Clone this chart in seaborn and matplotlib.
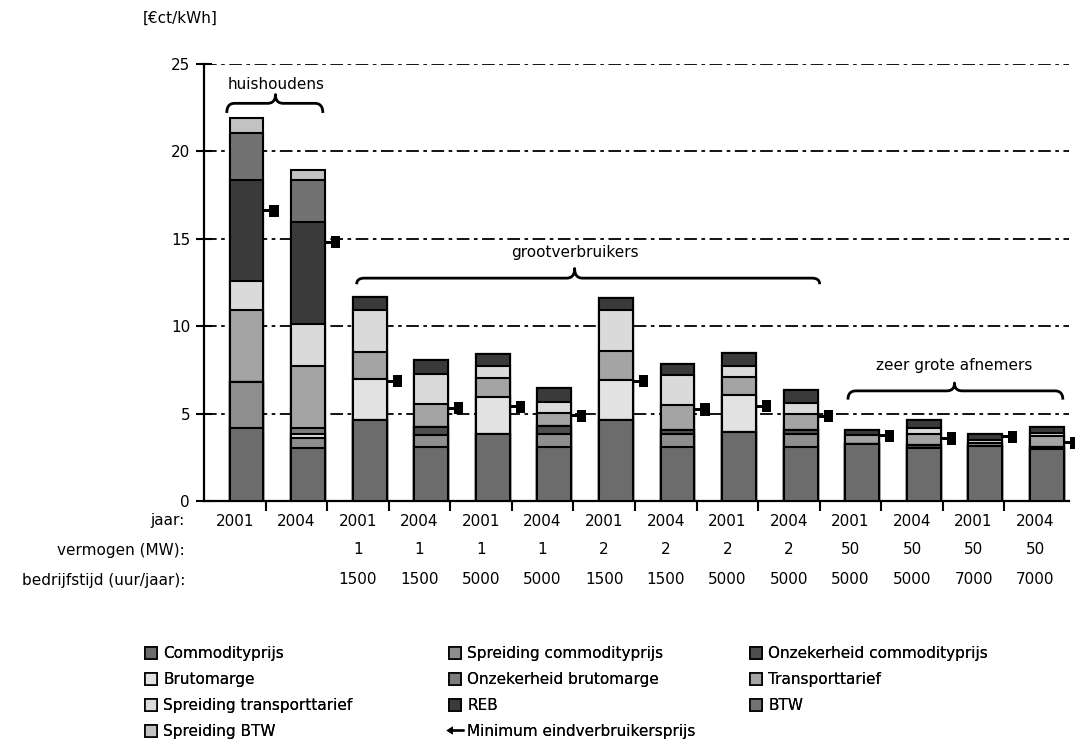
import numpy as np
import pandas as pd
import matplotlib
matplotlib.use("Agg")
import matplotlib.pyplot as plt
import seaborn as sns
from matplotlib.path import Path
from matplotlib.patches import Patch
from matplotlib.lines import Line2D
from matplotlib.transforms import blended_transform_factory

# ---------------- data ----------------
jaar = ["2001", "2004", "2001", "2004", "2001", "2004", "2001", "2004",
        "2001", "2004", "2001", "2004", "2001", "2004"]
vermogen = ["", "", "1", "1", "1", "1", "2", "2", "2", "2", "50", "50", "50", "50"]
bedrijfstijd = ["", "", "1500", "1500", "5000", "5000", "1500", "1500",
                "5000", "5000", "5000", "5000", "7000", "7000"]

series_names = ["Commodityprijs", "Spreiding commodityprijs", "Onzekerheid commodityprijs",
                "Brutomarge", "Onzekerheid brutomarge", "Transporttarief",
                "Spreiding transporttarief", "REB", "BTW", "Spreiding BTW"]

commodityprijs = [4.15, 3.05, 4.62, 3.10, 3.82, 3.10, 4.66, 3.10, 3.92, 3.10, 3.25, 3.01, 3.15, 3.00]
spreiding_commodityprijs = [2.65, 0.57, 0, 0.70, 0, 0.76, 0, 0.72, 0, 0.72, 0, 0, 0, 0]
onzekerheid_commodityprijs = [0, 0, 0, 0.44, 0, 0.42, 0, 0.23, 0, 0.23, 0, 0.19, 0, 0.10]
brutomarge = [0, 0.24, 2.38, 0, 2.13, 0, 2.25, 0, 2.13, 0, 0, 0, 0, 0]
onzekerheid_brutomarge = [0, 0.33, 0, 0, 0, 0, 0, 0, 0, 0, 0, 0, 0, 0]
transporttarief = [4.10, 3.52, 1.52, 1.33, 1.11, 0.76, 1.65, 1.43, 1.05, 0.92, 0.52, 0.66, 0.14, 0.61]
spreiding_transporttarief = [1.68, 2.44, 2.38, 1.68, 0.64, 0.63, 2.38, 1.71, 0.62, 0.64, 0, 0.29, 0.19, 0.19]
reb = [5.81, 5.80, 0.76, 0.80, 0.73, 0.80, 0.66, 0.63, 0.77, 0.76, 0.32, 0.47, 0.38, 0.34]
btw = [2.67, 2.40, 0, 0, 0, 0, 0, 0, 0, 0, 0, 0, 0, 0]
spreiding_btw = [0.84, 0.61, 0, 0, 0, 0, 0, 0, 0, 0, 0, 0, 0, 0]
minimum_eindverbruikersprijs = [16.6, 14.8, 6.85, 5.30, 5.40, 4.87, 6.85, 5.23, 5.42, 4.85,
                                3.73, 3.58, 3.67, 3.33]

series_values = [commodityprijs, spreiding_commodityprijs, onzekerheid_commodityprijs,
                 brutomarge, onzekerheid_brutomarge, transporttarief,
                 spreiding_transporttarief, reb, btw, spreiding_btw]
series_colors = ["#6c6c6c", "#8e8e8e", "#4e4e4e", "#e2e2e2", "#7c7c7c", "#a4a4a4",
                 "#dadada", "#3a3a3a", "#727272", "#c2c2c2"]

# ---------------- style ----------------
sns.set_theme(style="white")
plt.rcParams["font.family"] = ["DejaVu Sans"]
for key in ["text.color", "axes.labelcolor", "xtick.color", "ytick.color", "axes.edgecolor"]:
    plt.rcParams[key] = "black"
FS = 11

fig = plt.figure(figsize=(10.75, 7.49), dpi=100)
ax = fig.add_axes([204 / 1075, 1 - 501 / 749, 865 / 1075, 437 / 749])

n = len(jaar)
pos = np.arange(n) + 0.19
bar_w = 0.55

cum = np.cumsum(np.array(series_values, dtype=float), axis=0)
# draw cumulative totals from the top series down so each segment shows
for k in range(len(series_values) - 1, -1, -1):
    df = pd.DataFrame({"x": pos, "y": cum[k]})
    sns.barplot(data=df, x="x", y="y", native_scale=True, width=bar_w,
                color=series_colors[k], edgecolor="black", linewidth=1.5,
                saturation=1, errorbar=None, ax=ax, zorder=3)

# minimum end-user price markers (flag: short line + block)
flag = Path([(0, -0.1), (0.4, -0.1), (0.4, -0.4), (1.0, -0.4), (1.0, 0.4),
             (0.4, 0.4), (0.4, 0.1), (0, 0.1), (0, -0.1)],
            [Path.MOVETO] + [Path.LINETO] * 7 + [Path.CLOSEPOLY])
mdf = pd.DataFrame({"x": pos + bar_w / 2, "y": minimum_eindverbruikersprijs})
sns.scatterplot(data=mdf, x="x", y="y", marker=flag, s=480, color="black",
                edgecolor="none", linewidth=0, ax=ax, zorder=5, legend=False,
                clip_on=False)

# axes formatting
ax.set_xlim(-0.5, 13.55)
ax.set_ylim(0, 25)
ax.set_xlabel("")
ax.set_ylabel("")
ax.set_yticks([0, 5, 10, 15, 20, 25])
ax.set_yticklabels(["0", "5", "10", "15", "20", "25"], fontsize=FS)
ax.tick_params(axis="y", direction="inout", length=12, width=1.5, color="black",
               left=True, pad=4)
ax.set_xticks([])
ax.set_xticks(np.arange(n - 1) + 0.5, minor=True)
ax.tick_params(axis="x", which="minor", direction="out", length=7, width=1.5,
               color="black", bottom=True)
ax.tick_params(axis="x", which="major", length=0)
for s in ["top", "right"]:
    ax.spines[s].set_visible(False)
for s in ["left", "bottom"]:
    ax.spines[s].set_color("black")
    ax.spines[s].set_linewidth(1.6)
ax.yaxis.grid(True, color="black", linestyle=(0, (7, 2.5, 2, 2.5)), linewidth=1.3)
ax.xaxis.grid(False)
ax.set_axisbelow(True)

# category label rows
tr = blended_transform_factory(ax.transData, fig.transFigure)
rows = [("jaar:", jaar, 1 - 521 / 749),
        ("vermogen (MW):", vermogen, 1 - 550 / 749),
        ("bedrijfstijd (uur/jaar):", bedrijfstijd, 1 - 580 / 749)]
for title, labels, yy in rows:
    fig.text(185 / 1075, yy, title, ha="right", va="center", fontsize=FS)
    for i, lab in enumerate(labels):
        ax.text(i, yy, lab, transform=tr, ha="center", va="center", fontsize=FS)

# y unit label
fig.text(143 / 1075, 1 - 18 / 749, "[€ct/kWh]", ha="left", va="center", fontsize=FS)


# group braces
def bezier(p0, p1, p2, m=12):
    t = np.linspace(0, 1, m)[:, None]
    p0, p1, p2 = map(np.array, (p0, p1, p2))
    return (1 - t) ** 2 * p0 + 2 * (1 - t) * t * p1 + t ** 2 * p2


def brace(x0, x1, xt, y_end, y_flat, y_tip, dx=0.13):
    pts = np.vstack([
        bezier((x0, y_end), (x0, y_flat), (x0 + dx, y_flat)),
        bezier((xt - dx, y_flat), (xt, y_flat), (xt, y_tip)),
        bezier((xt, y_tip), (xt, y_flat), (xt + dx, y_flat)),
        bezier((x1 - dx, y_flat), (x1, y_flat), (x1, y_end)),
    ])
    ax.plot(pts[:, 0], pts[:, 1], color="black", linewidth=2, zorder=6,
            solid_capstyle="butt")


brace(-0.13, 1.43, 0.66, 22.2, 22.75, 23.25)
ax.text(-0.12, 23.85, "huishoudens", ha="left", va="center", fontsize=FS, zorder=6)
brace(1.98, 9.5, 5.52, 12.4, 12.75, 13.3)
ax.text(5.52, 14.2, "grootverbruikers", ha="center", va="center", fontsize=FS, zorder=6)
brace(9.96, 13.45, 11.69, 5.8, 6.3, 6.75)
ax.text(11.69, 7.75, "zeer grote afnemers", ha="center", va="center", fontsize=FS, zorder=6)

# legend: three columns placed explicitly
handles = [Patch(facecolor=c, edgecolor="black", linewidth=1.2, label=nm)
           for nm, c in zip(series_names, series_colors)]
flag_leg = Path([(-1.0, 0.0), (-0.3, -0.45), (-0.3, -0.12), (1.0, -0.12), (1.0, 0.12),
                 (-0.3, 0.12), (-0.3, 0.45), (-1.0, 0.0)],
                [Path.MOVETO] + [Path.LINETO] * 6 + [Path.CLOSEPOLY])
handles.append(Line2D([], [], marker=flag_leg, linestyle="none", color="black",
                      markersize=13, markeredgewidth=0,
                      label="Minimum eindverbruikersprijs"))
cols = [[0, 3, 6, 9], [1, 4, 7, 10], [2, 5, 8]]
col_x = [145, 449, 750]
for cx, idx in zip(col_x, cols):
    leg = fig.legend(handles=[handles[i] for i in idx], loc="upper left",
                     bbox_to_anchor=(cx / 1075, 1 - 646 / 749), frameon=False,
                     fontsize=FS, handlelength=0.8, handleheight=0.8,
                     handletextpad=0.4, labelspacing=0.72, borderpad=0,
                     borderaxespad=0)
    fig.add_artist(leg)

fig.savefig("out.png", dpi=100, facecolor="white")
